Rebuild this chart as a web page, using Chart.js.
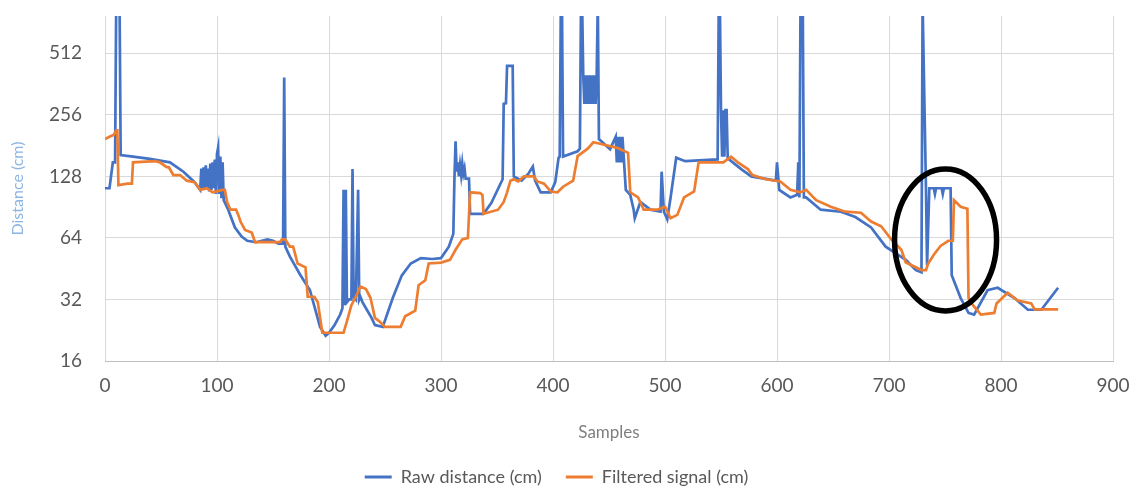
<!DOCTYPE html>
<html><head><meta charset="utf-8">
<script src="https://cdn.jsdelivr.net/npm/chart.js@4/dist/chart.umd.min.js"></script>
<style>html,body{margin:0;padding:0;background:#fff}#wrap{width:1137px;height:490px}</style>
</head><body><div id="wrap"><canvas id="c" width="1137" height="490"></canvas></div>
<script>
// ---- data ----
const seriesNames = ['Raw distance (cm)', 'Filtered signal (cm)'];
const xTickValues = [0, 100, 200, 300, 400, 500, 600, 700, 800, 900];
const yTickValues = [16, 32, 64, 128, 256, 512];

const rawX = [0,4,7,9,10,13,14,25,40,58,70,80,85,86,87,88,89,90,91,92,93,94,95,96,97,98,99,100,101,102,103,104,105,106,110,116,122,127,135,145,150,155,159,160,161,165,174,183,192,197,200,205,210,212,213,214,215,216,218,220,221,222,224,226,227,228,230,233,238,241,248,257,265,273,282,292,300,307,311,312,313,314,315,316,317,318,319,320,321,322,325,326,338,345,355,356,358,359,364,365,372,378,382,384,389,398,402,405,406,407,408,409,422,424,425,426,427,428,429,430,431,432,433,434,435,436,437,438,439,440,441,451,456,457,458,459,460,461,462,465,469,472,473,478,487,496,497,499,502,505,510,518,547,548,549,550,551,552,553,554,555,556,568,577,599,600,602,612,618,619,620,621,623,624,626,639,657,670,684,697,715,724,729,730,733,734,736,740,741,742,747,748,749,755,756,764,771,776,788,797,812,824,836,851];
const rawY = [112,112,150,150,900,900,163,160,156,150,135,120,110,140,112,142,110,145,112,140,108,148,110,150,112,155,105,165,177,105,160,100,150,98,88,72,65,62,61,63,62,60,60,390,58,52,42.5,35.5,23.5,21.3,22,24,27,29,110,30,110,31,32,32,139,33,32,110,32,33,31,29,26,24,23.5,32.6,42,48,51,50.5,51,58,67,125,190,135,150,128,145,130,148,132,140,125,125,84,84,95,124,290,292,445,445,128,122,132,143,122,107,107,120,158,160,900,900,160,170,175,900,900,400,290,400,290,400,290,400,290,400,290,400,290,400,900,195,174,200,150,200,150,200,150,200,110,104,88,80,96,88,86,135,86,79,101,158,152,155,900,900,270,160,270,160,270,270,157,139,128,122,150,110,101,104,150,101,900,900,101,101,88,86,81,72,58,50,44.5,43.5,900,112,47,112,112,105,112,112,105,112,112,42,32.5,27.5,27,35.5,36.5,32.5,28.5,28.5,36.5];

const filtX = [0,4,8,10,11,12,20,24,25,45,49,55,57,61,67,73,80,85,91,96,105,107,109,112,117,119,121,125,131,134,156,158,161,165,168,172,179,181,187,190,194,213,216,220,224,228,233,237,241,245,250,264,268,277,280,286,289,300,308,313,319,324,326,335,337,338,351,356,359,362,365,369,374,383,386,392,398,404,409,418,422,431,436,442,458,467,469,476,481,493,500,505,511,517,526,530,552,559,565,574,578,590,603,612,621,626,635,648,661,675,684,693,702,711,715,724,729,733,735,740,746,753,757,758,764,770,771,775,782,794,796,806,815,827,830,851];
const filtY = [195,200,205,215,215,116,118,118,150,152,150,142,142,130,130,122,120,110,112,107,110,110,96,88,88,83,77,70,68,61,61,63,63,58,58,48,46,33,33,31,22,22,25,30,33,37,36,32.6,26,25,23.5,23.5,26.5,28.2,37.6,39.7,48,48.5,50,56,63,64,107,106,104,84,88,96,107,122,124,121,128,128,121,118,108,107,114,122,161,175,188,185,176,167,107,101,88,88,91,80,83,101,108,150,150,160,150,139,130,124,121,110,107,110,98,91,86,85,77,73,63,56,48.5,46,44.5,44.5,48,53,58.5,62,62,98,91,89,32.6,30,27,27.5,30.6,34.5,31.6,30.6,28.6,28.6];

// annotation (circled region)
const highlightCenter = {x: 750.5, y: 62.6};

// ---- chart ----
const toPts = (xs, ys) => xs.map((v, i) => ({x: v, y: ys[i]}));
const tickFont = {family: 'Lato', size: 19};
const gridColor = '#d9d9d9';

const ellipsePlugin = {
  id: 'ellipseMark',
  afterDatasetsDraw(chart) {
    const {ctx, scales} = chart;
    const cx = scales.x.getPixelForValue(highlightCenter.x);
    const cy = scales.y.getPixelForValue(highlightCenter.y);
    ctx.save();
    ctx.beginPath();
    ctx.ellipse(cx, cy, 51, 71, 0, 0, Math.PI * 2);
    ctx.lineWidth = 5.5;
    ctx.strokeStyle = '#000';
    ctx.stroke();
    ctx.restore();
  }
};

new Chart(document.getElementById('c'), {
  type: 'line',
  data: {
    datasets: [
      {label: seriesNames[0], data: toPts(rawX, rawY), borderColor: '#4472c4', backgroundColor: '#4472c4',
       borderWidth: 2.7, pointRadius: 0, tension: 0, order: 2},
      {label: seriesNames[1], data: toPts(filtX, filtY), borderColor: '#ed7d31', backgroundColor: '#ed7d31',
       borderWidth: 2.7, pointRadius: 0, tension: 0, order: 1}
    ]
  },
  options: {
    responsive: false,
    animation: false,
    layout: {padding: {top: 16, right: 24, left: 0, bottom: -6}},
    plugins: {
      tooltip: {enabled: false},
      legend: {
        position: 'bottom',
        labels: {
          font: {family: 'Lato', size: 18},
          color: '#595959',
          boxWidth: 27,
          boxHeight: 3,
          padding: 24,
          sort: (a, b) => a.datasetIndex - b.datasetIndex,
          generateLabels(chart) {
            return chart.data.datasets.map((ds, i) => ({
              text: ds.label, fillStyle: ds.borderColor, strokeStyle: ds.borderColor,
              lineWidth: 0, datasetIndex: i, hidden: false, fontColor: '#595959'
            }));
          }
        }
      }
    },
    scales: {
      x: {
        type: 'linear', min: 0, max: 900,
        afterBuildTicks: (axis) => { axis.ticks = xTickValues.map(v => ({value: v})); },
        ticks: {font: tickFont, color: '#595959', padding: 13, maxRotation: 0},
        grid: {color: gridColor, lineWidth: 1, drawTicks: false},
        border: {color: '#bfbfbf', width: 1},
        title: {display: true, text: 'Samples', color: '#7f7f7f', font: {family: 'Lato', size: 17}, padding: {top: 20, bottom: 1}},
        afterFit: (s) => { s.height = 83; s.paddingLeft = 0; s.paddingRight = 0; }
      },
      y: {
        type: 'logarithmic', min: 16, max: 780,
        afterBuildTicks: (axis) => { axis.ticks = yTickValues.map(v => ({value: v})); },
        ticks: {font: tickFont, color: '#595959', padding: 23, callback: (v) => String(v)},
        grid: {color: gridColor, lineWidth: 1, drawTicks: false},
        border: {display: false},
        title: {display: true, text: 'Distance (cm)', color: '#8eb4e3', font: {family: 'Lato', size: 16}, padding: {top: 8, bottom: 0}},
        afterFit: (s) => { s.width = 105; s.paddingTop = 0; s.paddingBottom = 0; }
      }
    }
  },
  plugins: [ellipsePlugin]
});
</script>
</body></html>
